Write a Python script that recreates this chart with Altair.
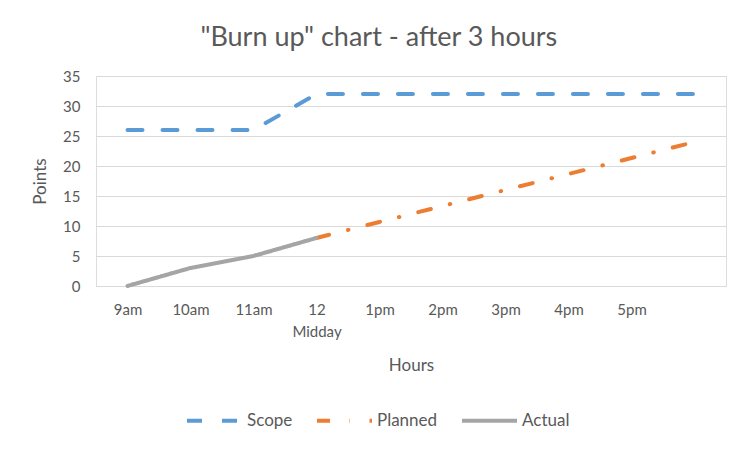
import altair as alt
import pandas as pd

hours = ["9am", "10am", "11am", "12 Midday", "1pm", "2pm", "3pm", "4pm", "5pm", "6pm"]
scope = [26, 26, 26, 32, 32, 32, 32, 32, 32, 32]
planned = [None, None, None, 8, 10.67, 13.33, 16, 18.67, 21.33, 24]
actual = [0, 3, 5, 8, None, None, None, None, None, None]
series = ["Scope", "Planned", "Actual"]
colors = ["#5B9BD5", "#ED7D31", "#A5A5A5"]
dashes = [[15, 20], [13, 19.5, 0.5, 19.5], [1, 0]]
y_ticks = [0, 5, 10, 15, 20, 25, 30, 35]

rows = []
for name, vals in zip(series, [scope, planned, actual]):
    for h, v in zip(hours, vals):
        if v is not None:
            rows.append({"Hour": h, "Points": v, "Series": name})
df = pd.DataFrame(rows)

FONT = "Lato"
GREY = "#595959"

legend = alt.Legend(
    orient="none", legendX=89, legendY=315, direction="horizontal", title=None,
    symbolType="stroke", symbolSize=3025, symbolStrokeWidth=4,
    labelFont=FONT, labelFontSize=17, labelColor=GREY, labelOffset=3,
    columnPadding=16, padding=0,
)

chart = alt.Chart(df).mark_line(strokeWidth=4, strokeCap="round", strokeJoin="round").encode(
    x=alt.X(
        "Hour:N", sort=hours,
        scale=alt.Scale(type="point", padding=0.5, domain=hours),
        axis=alt.Axis(
            title="Hours", labelAngle=0, ticks=False, grid=False,
            domain=True, domainColor="#D9D9D9", domainWidth=1,
            labelExpr="datum.value == '6pm' ? '' : split(datum.value, ' ')",
            labelFont=FONT, labelFontSize=15, labelColor=GREY, labelPadding=16,
            labelLineHeight=22,
            titleFont=FONT, titleFontSize=17, titleColor=GREY, titleFontWeight="normal",
            titlePadding=18,
        ),
    ),
    y=alt.Y(
        "Points:Q",
        scale=alt.Scale(domain=[0, 35], nice=False),
        axis=alt.Axis(
            title="Points", values=y_ticks, ticks=False, domain=False, grid=True,
            gridColor="#D9D9D9", gridWidth=1,
            labelFont=FONT, labelFontSize=15, labelColor=GREY, labelPadding=16,
            titleFont=FONT, titleFontSize=17, titleColor=GREY, titleFontWeight="normal",
            titlePadding=13,
        ),
    ),
    color=alt.Color("Series:N", scale=alt.Scale(domain=series, range=colors), legend=legend),
    strokeDash=alt.StrokeDash("Series:N", scale=alt.Scale(domain=series, range=dashes), legend=legend),
).properties(
    width=630,
    height=210,
    padding={"left": 23, "top": 16, "right": 10, "bottom": 5},
    title=alt.Title(
        '"Burn up" chart - after 3 hours', font=FONT, fontSize=27, fontWeight="normal",
        color=GREY, anchor="middle", frame="bounds", offset=17,
    ),
).configure_view(stroke=None).configure(background="white")

chart.save("out.html", embed_options={"renderer": "svg", "actions": False})
